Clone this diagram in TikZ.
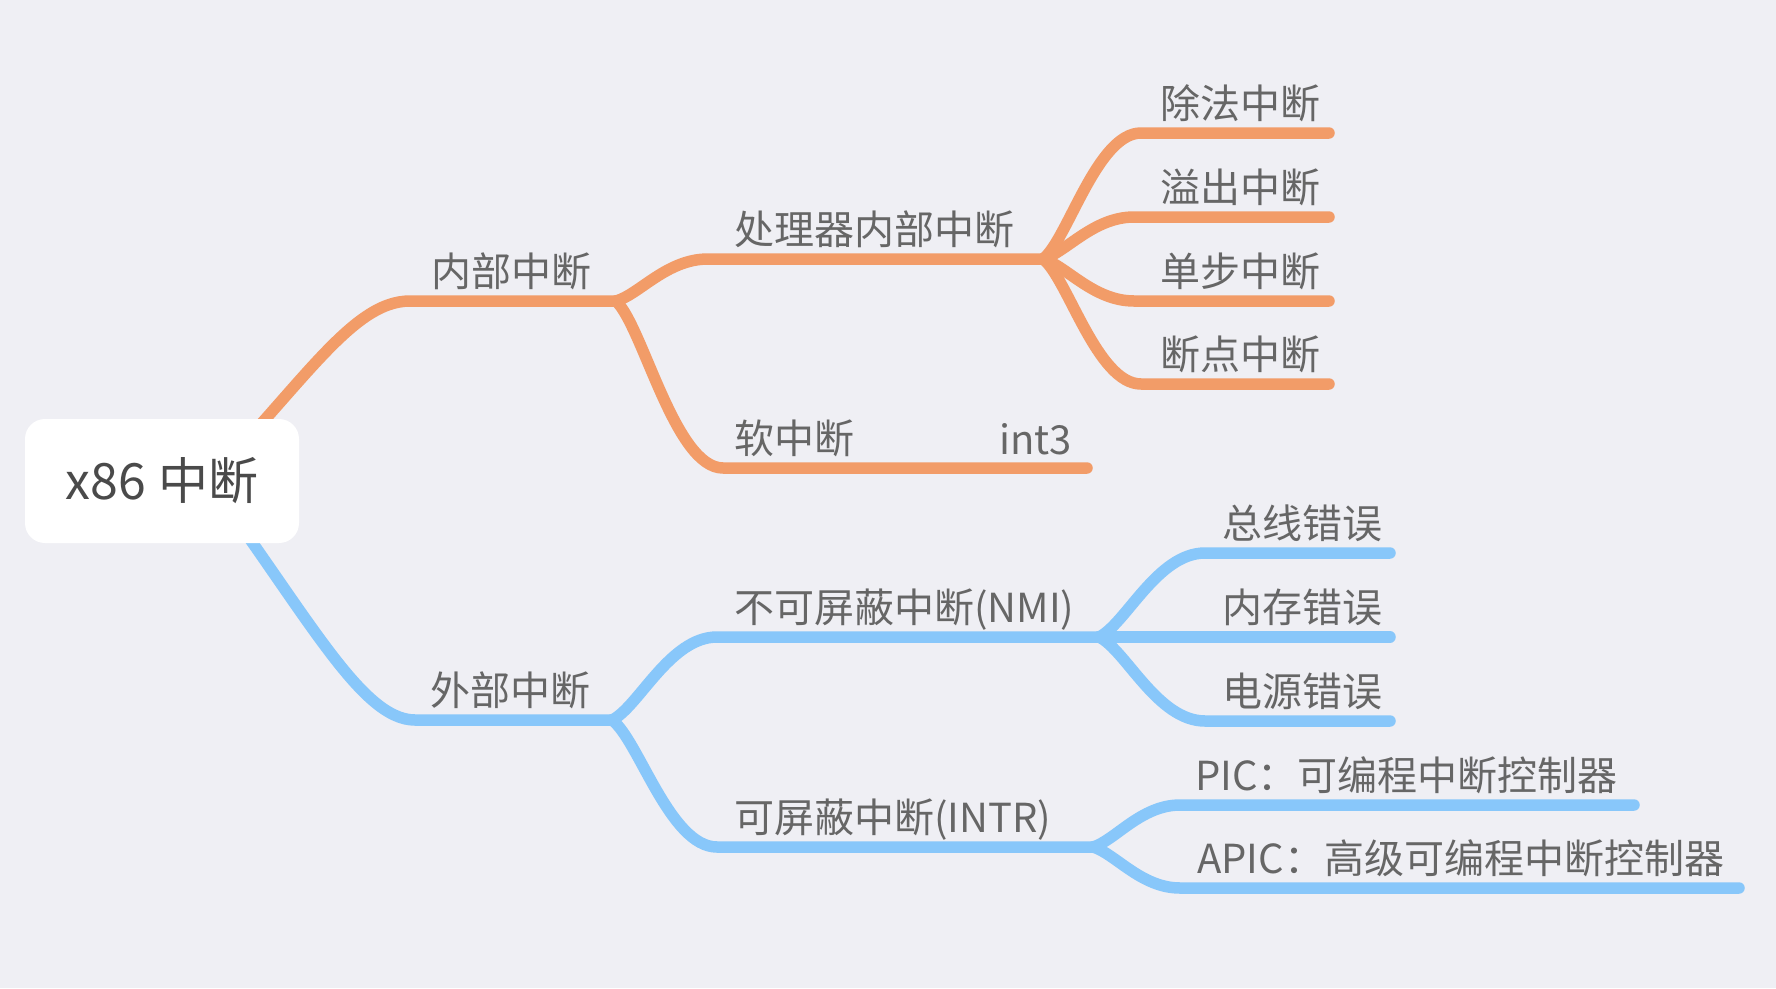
\documentclass[tikz,border=0pt]{standalone}
\usepackage{fontspec}
\newfontfamily\cjk{Noto Sans CJK SC}
\usetikzlibrary{calc}
\definecolor{bg}{RGB}{239,239,244}
\definecolor{org}{RGB}{242,156,104}
\definecolor{blu}{RGB}{136,199,250}
\definecolor{txt}{RGB}{102,102,102}
\definecolor{roottxt}{RGB}{74,74,74}
\begin{document}
\begin{tikzpicture}[x=1pt,y=-1pt,
  obr/.style={draw=org,line width=11.5pt,line cap=round,line join=round},
  bbr/.style={draw=blu,line width=11.5pt,line cap=round,line join=round},
  br/.style={to path={let \p1=(\tikztostart),\p2=(\tikztotarget) in
     .. controls ({\x1+0.25*(\x2-\x1)},{\y1+0.15*(\y2-\y1)}) and ({\x1+0.55*(\x2-\x1)},\y2) .. (\tikztotarget)}},
  lbl/.style={anchor=base west,inner sep=0pt,text=txt,font=\cjk\fontsize{40pt}{48pt}\selectfont},
  rootbox/.style={fill=white,rounded corners=20pt,minimum width=274pt,minimum height=124pt,inner sep=0pt,
     text=roottxt,font=\cjk\fontsize{50pt}{60pt}\selectfont}
]
\useasboundingbox (0,0) rectangle (1776,988);
\fill[bg] (0,0) rectangle (1776,988);

% coordinates
\coordinate (ro) at (190,500);
\coordinate (rb) at (200,470);
\coordinate (j1) at (616,301);
\coordinate (j2) at (1043,259);
\coordinate (j3) at (612,720);
\coordinate (j4) at (1099,637);
\coordinate (j5) at (1093,847);

% root to internal
\draw[obr] (ro) .. controls (300,390) and (350,301) .. (410,301) -- (j1);
% root to external
\draw[bbr] (rb) .. controls (305,610) and (360,720) .. (415,720) -- (j3);

% internal children
\coordinate (s11) at (708,259);
\coordinate (s12) at (723,468);
\draw[obr] (j1) to[br] (s11) -- (j2);
\draw[obr] (j1) to[br] (s12) -- (1087,468);

% processor-internal leaves
\coordinate (l1) at (1141,133);
\coordinate (l2) at (1134,217);
\coordinate (l3) at (1134,301);
\coordinate (l4) at (1141,384);
\draw[obr] (j2) to[br] (l1) -- (1329,133);
\draw[obr] (j2) to[br] (l2) -- (1329,217);
\draw[obr] (j2) to[br] (l3) -- (1329,301);
\draw[obr] (j2) to[br] (l4) -- (1329,384);

% external children
\coordinate (s21) at (717,637);
\coordinate (s22) at (717,847);
\draw[bbr] (j3) to[br] (s21) -- (j4);
\draw[bbr] (j3) to[br] (s22) -- (j5);

% NMI leaves
\coordinate (n1) at (1205,553);
\coordinate (n3) at (1205,721);
\draw[bbr] (j4) to[br] (n1) -- (1390,553);
\draw[bbr] (j4) -- (1390,637);
\draw[bbr] (j4) to[br] (n3) -- (1390,721);

% INTR leaves
\coordinate (p1) at (1180,805);
\coordinate (p2) at (1180,888);
\draw[bbr] (j5) to[br] (p1) -- (1634,805);
\draw[bbr] (j5) to[br] (p2) -- (1739,888);

% root
\node[rootbox] (root) at (162,481) {x86\hspace{12pt}中断};

% labels
\node[lbl] (nb) at (431,286) {内部中断};
\node[lbl] (wb) at (430,705) {外部中断};
\node[lbl] (clq) at (734,244) {处理器内部中断};
\node[lbl] (rzd) at (734,453) {软中断};
\node[lbl] (int3) at (999,454) {int3};
\node[lbl] (cf) at (1160,118) {除法中断};
\node[lbl] (yc) at (1160,202) {溢出中断};
\node[lbl] (db) at (1160,286) {单步中断};
\node[lbl] (dd) at (1160,369) {断点中断};
\node[lbl] (nmi) at (734,622) {不可屏蔽中断(NMI)};
\node[lbl] (intr) at (734,832) {可屏蔽中断(INTR)};
\node[lbl] (zx) at (1222,538) {总线错误};
\node[lbl] (nc) at (1222,622) {内存错误};
\node[lbl] (dy) at (1222,706) {电源错误};
\node[lbl] (pic) at (1195,790) {PIC：可编程中断控制器};
\node[lbl] (apic) at (1197,873) {APIC：高级可编程中断控制器};
\end{tikzpicture}
\end{document}
